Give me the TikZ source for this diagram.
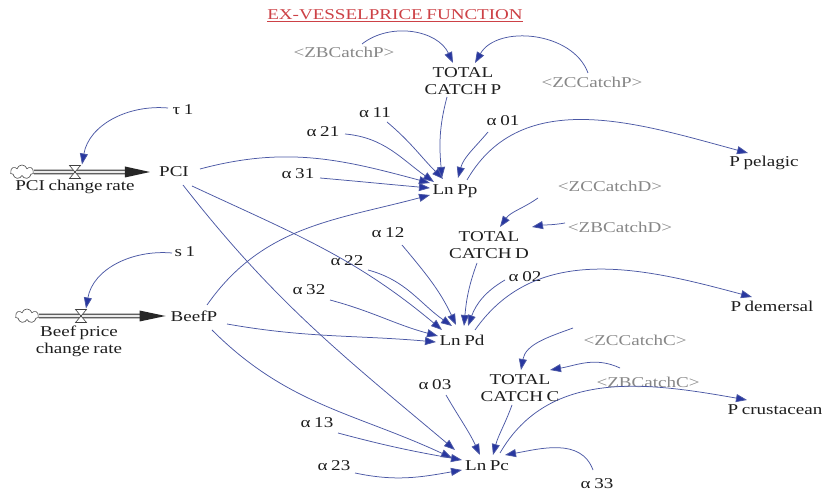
\documentclass[tikz,border=0pt]{standalone}
\usepackage{fontspec}
\setmainfont{Liberation Serif}[FakeStretch=1.27,WordSpace=0.75]
\usetikzlibrary{arrows.meta,shapes.symbols}
\definecolor{linkblue}{RGB}{75,88,165}
\definecolor{tipblue}{RGB}{40,55,160}
\definecolor{txt}{RGB}{30,30,30}
\definecolor{shadowtxt}{RGB}{135,135,135}
\definecolor{titlered}{RGB}{205,65,70}
\begin{document}
\begin{tikzpicture}[x=1pt,y=1pt,
  lbl/.style={inner sep=1pt, text=txt, font=\fontsize{15}{17}\selectfont, align=center},
  ghost/.style={lbl, text=shadowtxt},
  conn/.style={draw=linkblue, line width=0.75pt, -{Triangle[length=11pt,width=8pt,fill=tipblue]}},
  pipeouter/.style={draw=black!70, line width=4.6pt},
  pipeinner/.style={draw=gray!15, line width=2.4pt},
  pipehead/.style={fill=black!85},
  valvebox/.style={draw=black!75, fill=white, line width=0.6pt},
  cloudbox/.style={cloud, draw=black!70, line width=0.6pt, cloud puffs=7, aspect=1.5, minimum width=23pt, minimum height=14pt, inner sep=0pt},
]
\useasboundingbox (0,0) rectangle (827,492);
\fill[white] (0,0) rectangle (827,492);

% title
\node[lbl, text=titlered] (title) at (395,476) {\underline{EX-VESSELPRICE FUNCTION}};

% top block
\node[ghost] (zbp) at (344,440) {<ZBCatchP>};
\node[lbl] (tcp) at (463,411) {TOTAL\\CATCH P};
\node[ghost] (zcp) at (592,410) {<ZCCatchP>};
\node[lbl] (tau1) at (183,382) {τ 1};
\node[lbl] (a11) at (375,379) {α 11};
\node[lbl] (a21) at (323,360) {α 21};
\node[lbl] (a01) at (503,371) {α 01};
\node[lbl] (ppel) at (764,329) {P pelagic};
\node[lbl] (pci) at (174,320) {PCI};
\node[lbl] (pcirate) at (75,305) {PCI change rate};
\node[lbl] (a31) at (298,318) {α 31};
\node[lbl] (lnpp) at (455,301) {Ln Pp};

% middle block
\node[ghost] (zcd) at (610,306) {<ZCCatchD>};
\node[lbl] (tcd) at (489,247) {TOTAL\\CATCH D};
\node[ghost] (zbd) at (620,265) {<ZBCatchD>};
\node[lbl] (a12) at (388,259) {α 12};
\node[lbl] (s1) at (185,240) {s 1};
\node[lbl] (a22) at (347,231) {α 22};
\node[lbl] (a02) at (525,215) {α 02};
\node[lbl] (pdem) at (772,186) {P demersal};
\node[lbl] (a32) at (309,202) {α 32};
\node[lbl] (beefp) at (194,176) {BeefP};
\node[lbl] (beefrate) at (79,151) {Beef price\\change rate};
\node[lbl] (lnpd) at (462,152) {Ln Pd};

% bottom block
\node[ghost] (zcc) at (635,152) {<ZCCatchC>};
\node[lbl] (tcc) at (520,104) {TOTAL\\CATCH C};
\node[ghost] (zbc) at (648,110) {<ZBCatchC>};
\node[lbl] (a03) at (435,107) {α 03};
\node[lbl] (pcru) at (775,82) {P crustacean};
\node[lbl] (a13) at (317,69) {α 13};
\node[lbl] (lnpc) at (487,26) {Ln Pc};
\node[lbl] (a23) at (334,26) {α 23};
\node[lbl] (a33) at (597,8) {α 33};

% flows
\node[cloudbox] (cloud1) at (22,320) {};
\coordinate (valve1) at (75,320);
\draw[pipeouter] (cloud1.east) -- ([xshift=-30pt]pci.west);
\draw[pipeinner] (cloud1.east) -- ([xshift=-30pt]pci.west);
\fill[pipehead] ([shift={(-33,5.5)}]pci.west) -- ([xshift=-8pt]pci.west) -- ([shift={(-33,-5.5)}]pci.west) -- cycle;
\draw[valvebox] ([shift={(-5.5,6.5)}]valve1) -- ([shift={(5.5,6.5)}]valve1) -- ([shift={(-5.5,-6.5)}]valve1) -- ([shift={(5.5,-6.5)}]valve1) -- cycle;

\node[cloudbox] (cloud2) at (27,176) {};
\coordinate (valve2) at (81,176);
\draw[pipeouter] (cloud2.east) -- ([xshift=-27pt]beefp.west);
\draw[pipeinner] (cloud2.east) -- ([xshift=-27pt]beefp.west);
\fill[pipehead] ([shift={(-30,5.5)}]beefp.west) -- ([xshift=-4pt]beefp.west) -- ([shift={(-30,-5.5)}]beefp.west) -- cycle;
\draw[valvebox] ([shift={(-5.5,6.5)}]valve2) -- ([shift={(5.5,6.5)}]valve2) -- ([shift={(-5.5,-6.5)}]valve2) -- ([shift={(5.5,-6.5)}]valve2) -- cycle;

% rate influences
\draw[conn] ([shift={(-15,2)}]tau1.center) to[out=175,in=80] ([shift={(7,7.5)}]valve1);
\draw[conn] ([shift={(-13,-1)}]s1.center) to[out=175,in=80] ([shift={(5,7.5)}]valve2);

% Ln Pp
\draw[conn] ([shift={(18,8)}]zbp.center) to[out=38,in=115] ([shift={(-10,18)}]tcp.center);
\draw[conn] ([shift={(-4,9)}]zcp.center) to[out=110,in=60] ([shift={(12,18)}]tcp.center);
\draw[conn] ([shift={(-16,-16)}]tcp.center) to[out=-105,in=95] ([shift={(-13,13)}]lnpp.center);
\draw[conn] ([shift={(-15,-11)}]a01.center) to[out=-130,in=75] ([shift={(3,13)}]lnpp.center);
\draw[conn] ([shift={(12,11)}]lnpp.center) to[out=60,in=165] ([shift={(-16,10)}]ppel.center);
\draw[conn] ([shift={(12,-9)}]a11.center) to[out=-40,in=135] ([shift={(-12,12)}]lnpp.center);
\draw[conn] ([shift={(22,-2)}]a21.center) to[out=-5,in=145] ([shift={(-21,9)}]lnpp.center);
\draw[conn] ([shift={(26,3)}]pci.center) to[out=15,in=165] ([shift={(-25,8)}]lnpp.center);
\draw[conn] ([shift={(22,-4)}]a31.center) to[out=-5,in=175] ([shift={(-25,3)}]lnpp.center);
\draw[conn] ([shift={(13,11)}]beefp.center) to[out=55,in=195] ([shift={(-25,-4)}]lnpp.center);

% Ln Pd
\draw[conn] ([shift={(-72,-12)}]zcd.center) to[out=-145,in=55] ([shift={(11,18)}]tcd.center);
\draw[conn] ([shift={(-55,4)}]zbd.center) to[out=190,in=10] ([shift={(43,18)}]tcd.center);
\draw[conn] ([shift={(-12,-18)}]tcd.center) to[out=-110,in=85] ([shift={(2,14)}]lnpd.center);
\draw[conn] ([shift={(-20,-3)}]a02.center) to[out=-150,in=70] ([shift={(6,14)}]lnpd.center);
\draw[conn] ([shift={(13,10)}]lnpd.center) to[out=55,in=165] ([shift={(-20,9)}]pdem.center);
\draw[conn] ([shift={(14,-12)}]a12.center) to[out=-50,in=115] ([shift={(-6,15)}]lnpd.center);
\draw[conn] ([shift={(21,-9)}]a22.center) to[out=-15,in=145] ([shift={(-10,14)}]lnpd.center);
\draw[conn] ([shift={(21,-10)}]a32.center) to[out=-15,in=165] ([shift={(-24,4)}]lnpd.center);
\draw[conn] ([shift={(18,-14)}]pci.center) to[out=-25,in=140] ([shift={(-20,10)}]lnpd.center);
\draw[conn] ([shift={(33,-8)}]beefp.center) to[out=-10,in=175] ([shift={(-26,-2)}]lnpd.center);

% Ln Pc
\draw[conn] ([shift={(-62,12)}]zcc.center) to[out=200,in=80] ([shift={(1,18)}]tcc.center);
\draw[conn] ([shift={(-28,14)}]zbc.center) to[out=155,in=10] ([shift={(30,18)}]tcc.center);
\draw[conn] ([shift={(-8,-17)}]tcc.center) to[out=-110,in=75] ([shift={(6,11)}]lnpc.center);
\draw[conn] ([shift={(11,-10)}]a03.center) to[out=-60,in=115] ([shift={(-7,11)}]lnpc.center);
\draw[conn] ([shift={(13,13)}]lnpc.center) to[out=60,in=170] ([shift={(-28,10)}]pcru.center);
\draw[conn] ([shift={(-4,14)}]a33.center) to[out=110,in=10] ([shift={(18,11)}]lnpc.center);
\draw[conn] ([shift={(9,-13)}]pci.center) to[out=-52,in=140] ([shift={(-32,16)}]lnpc.center);
\draw[conn] ([shift={(18,-14)}]beefp.center) to[out=-45,in=155] ([shift={(-35,8)}]lnpc.center);
\draw[conn] ([shift={(21,-10)}]a13.center) to[out=-15,in=170] ([shift={(-25,6)}]lnpc.center);
\draw[conn] ([shift={(21,-7)}]a23.center) to[out=-12,in=190] ([shift={(-25,-4)}]lnpc.center);
\end{tikzpicture}
\end{document}
